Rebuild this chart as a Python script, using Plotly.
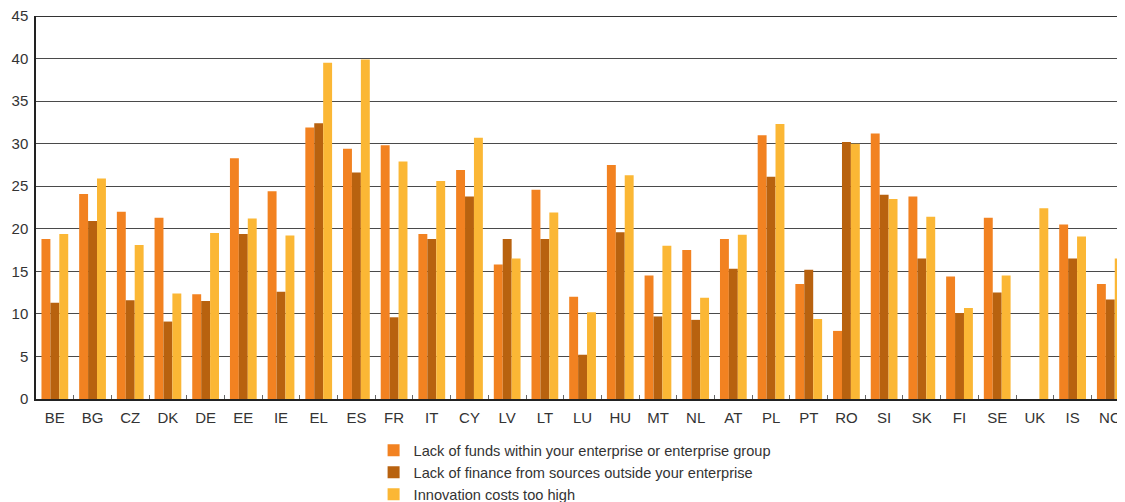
import plotly.graph_objects as go

countries = ["BE", "BG", "CZ", "DK", "DE", "EE", "IE", "EL", "ES", "FR", "IT", "CY", "LV", "LT", "LU",
             "HU", "MT", "NL", "AT", "PL", "PT", "RO", "SI", "SK", "FI", "SE", "UK", "IS", "NO"]

lack_funds_within = [18.8, 24.1, 22.0, 21.3, 12.3, 28.3, 24.4, 31.9, 29.4, 29.8, 19.4, 26.9, 15.8, 24.6, 12.0,
                     27.5, 14.5, 17.5, 18.8, 31.0, 13.5, 8.0, 31.2, 23.8, 14.4, 21.3, None, 20.5, 13.5]
lack_finance_outside = [11.3, 20.9, 11.6, 9.1, 11.5, 19.4, 12.6, 32.4, 26.6, 9.6, 18.8, 23.8, 18.8, 18.8, 5.2,
                        19.6, 9.7, 9.3, 15.3, 26.1, 15.2, 30.2, 24.0, 16.5, 10.1, 12.5, None, 16.5, 11.7]
costs_too_high = [19.4, 25.9, 18.1, 12.4, 19.5, 21.2, 19.2, 39.5, 39.9, 27.9, 25.6, 30.7, 16.5, 21.9, 10.2,
                  26.3, 18.0, 11.9, 19.3, 32.3, 9.4, 30.0, 23.5, 21.4, 10.7, 14.5, 22.4, 19.1, 16.5]

series_names = ["Lack of funds within your enterprise or enterprise group",
                "Lack of finance from sources outside your enterprise",
                "Innovation costs too high"]
series_colors = ["#F28221", "#B8620F", "#FBB735"]
y_ticks = [0, 5, 10, 15, 20, 25, 30, 35, 40, 45]

fig = go.Figure()
for name, vals, col in zip(series_names, [lack_funds_within, lack_finance_outside, costs_too_high], series_colors):
    fig.add_trace(go.Bar(x=countries, y=vals, name=name, marker=dict(color=col, line=dict(width=0))))

# top border line at 45
fig.add_shape(type="line", xref="paper", yref="y", x0=0, x1=1, y0=45, y1=45,
              line=dict(color="#333333", width=2))

fig.update_layout(
    width=1117, height=494,
    margin=dict(l=28, r=0, t=8, b=103, autoexpand=False),
    paper_bgcolor="white", plot_bgcolor="white",
    barmode="group", bargap=0.29, bargroupgap=0,
    font=dict(family="Liberation Sans, Arial, sans-serif", size=15, color="#333333"),
    showlegend=True,
    legend=dict(orientation="v", x=0.310, xanchor="left", y=-0.092, yanchor="top",
                font=dict(size=14.6, color="#333333"), traceorder="normal",
                itemwidth=30, tracegroupgap=0, bgcolor="rgba(0,0,0,0)"),
    xaxis=dict(range=[-0.5, 28.39], showline=True, linecolor="#222222", linewidth=1.5,
               ticks="inside", tickson="boundaries", ticklen=4, tickcolor="#666666",
               showgrid=False, automargin=False, ticklabelstandoff=4,
               tickfont=dict(size=15, color="#333333")),
    yaxis=dict(range=[0, 45], tickvals=y_ticks, showline=True, linecolor="#222222", linewidth=1.5,
               showgrid=True, gridcolor="#4a4a4a", gridwidth=1, ticks="", zeroline=False,
               automargin=False, ticklabelstandoff=3, ticklabeloverflow="allow",
               tickfont=dict(size=15, color="#333333")),
)

fig.write_html("out.html")
